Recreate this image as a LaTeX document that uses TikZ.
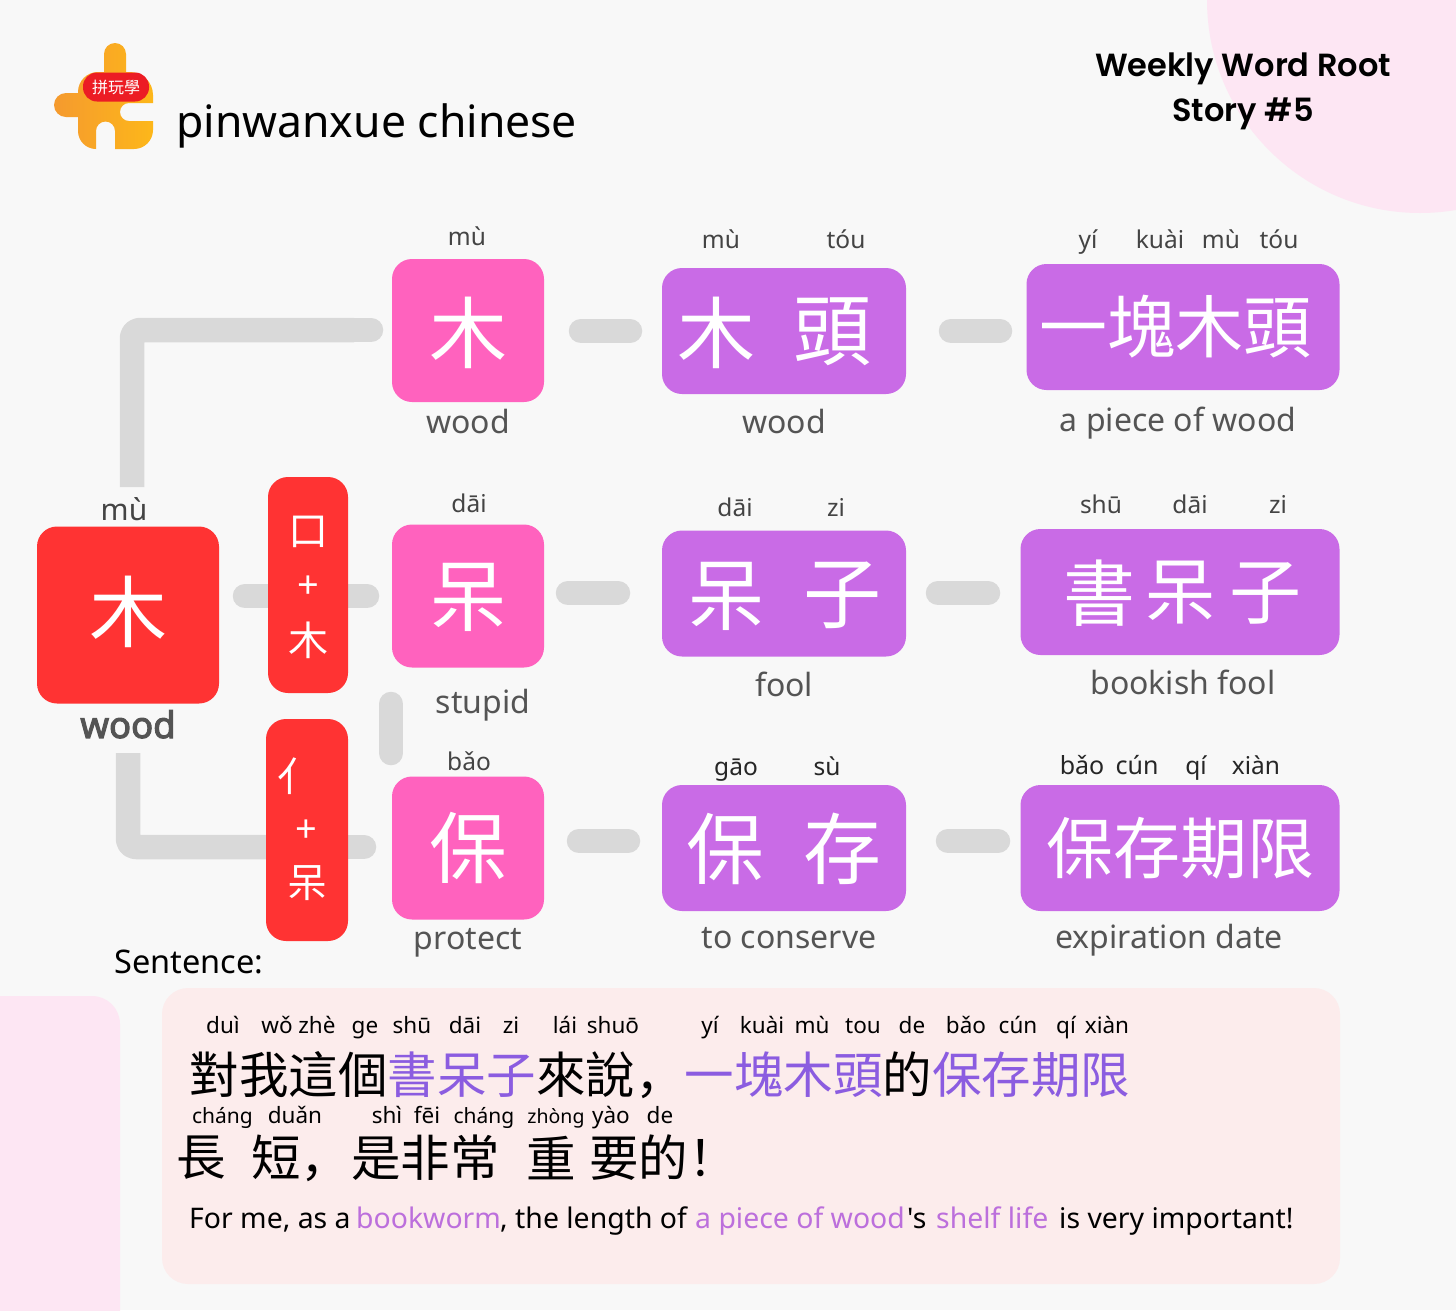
\documentclass[tikz,border=0pt]{standalone}
\usepackage{fontspec}
\setmainfont{Noto Sans}
\newfontfamily\plainfont{Noto Sans}
\newfontfamily\boldword{Noto Sans}[FakeBold=3]
\newfontfamily\cjk{Noto Sans CJK TC}
\newfontfamily\cjksc{Noto Sans CJK SC}
\newfontfamily\headfont{Poppins}[BoldFont={Poppins SemiBold}]
\definecolor{pagebg}{HTML}{F8F8F8}
\definecolor{softpink}{HTML}{FDE6F3}
\definecolor{sentbg}{HTML}{FCECEC}
\definecolor{linkgrey}{HTML}{D9D9D9}
\definecolor{rootred}{HTML}{FF3333}
\definecolor{hotpink}{HTML}{FF62BE}
\definecolor{boxpurple}{HTML}{C96BE6}
\definecolor{sentpurple}{HTML}{8B5CE0}
\definecolor{enpurple}{HTML}{BC6FDC}
\definecolor{labelgrey}{HTML}{545454}
\definecolor{pygrey}{HTML}{444444}
\definecolor{logoleft}{HTML}{F59A2E}
\definecolor{logoright}{HTML}{FDB71A}
\definecolor{logored}{HTML}{EC1C24}
\newcommand{\fs}[1]{\fontsize{#1}{#1}\selectfont}
\newcommand{\hl}[1]{\textcolor{sentpurple}{#1}}
\tikzset{
  x=1pt,y=-1pt,
  link/.style={draw=linkgrey,line width=24.5pt,line cap=round,line join=round},
  linkbutt/.style={link,line cap=butt},
  pinkbox/.style={fill=hotpink,rounded corners=20pt,minimum width=152pt,minimum height=143pt,inner sep=0pt},
  purplebox/.style={fill=boxpurple,rounded corners=20pt,minimum height=126pt,inner sep=0pt},
  redbar/.style={fill=rootred,rounded corners=20pt,inner sep=0pt},
  glyph/.style={text=white,inner sep=0pt,font=\cjk\fs{78}},
  glyphs/.style={text=white,inner sep=0pt,font=\cjk\fs{40}},
  plus/.style={text=white,inner sep=0pt,font=\fs{38}},
  py/.style={anchor=base,inner sep=0pt,text=pygrey,font=\fs{24.5}},
  pyk/.style={py,text=black!85},
  mean/.style={anchor=base,inner sep=0pt,text=labelgrey,font=\fs{32}},
  sp/.style={anchor=base,inner sep=0pt,text=black,font=\fs{22.5}},
  sent/.style={anchor=west,inner sep=0pt,text=black,font=\cjksc\fs{49.5}},
  ent/.style={anchor=base west,inner sep=0pt,text=black,font=\plainfont\fs{28.4}},
  enh/.style={ent,text=enpurple},
}
\begin{document}
\begin{tikzpicture}
\useasboundingbox (0,0) rectangle (1456,1310);
\fill[pagebg] (0,0) rectangle (1456,1310);
\begin{scope}
\clip (0,0) rectangle (1456,1310);
\fill[softpink] (1420,0) circle[radius=213];
\fill[softpink,rounded corners=28pt] (-40,996) rectangle (120,1350);
\end{scope}
\node[fill=sentbg,rounded corners=26pt,minimum width=1178pt,minimum height=296pt,inner sep=0pt] (sentbox) at (751,1136) {};

% logo
\path[left color=logoleft,right color=logoright]
  (104,72) -- (104,54) arc[start angle=180,end angle=360,radius=11] -- (126,72) -- (130,72)
  arc[start angle=270,end angle=360,radius=23] -- (153,103) -- (129,103)
  arc[start angle=270,end angle=90,radius=9] -- (153,121) -- (153,130)
  arc[start angle=0,end angle=90,radius=19] -- (115,149) -- (115,131)
  arc[start angle=360,end angle=180,radius=9.5] -- (96,149)
  arc[start angle=90,end angle=180,radius=18] -- (78,117) -- (66,117)
  arc[start angle=90,end angle=270,radius=12] -- (78,93) -- (78,92)
  arc[start angle=180,end angle=270,radius=20] -- cycle;
\node[fill=logored,rounded corners=14pt,minimum width=66pt,minimum height=29pt,inner sep=0pt,text=white,font=\cjk\fs{16}] (logopill) at (116,87) {拼玩學};
\node[anchor=base west,inner sep=0pt,text=black,font=\fs{44.5}] (brand) at (176,137) {pinwanxue chinese};
\node[anchor=base,inner sep=0pt,text=black,font=\headfont\bfseries\fs{32}] (title1) at (1243,76) {Weekly Word Root};
\node[anchor=base,inner sep=0pt,text=black,font=\headfont\bfseries\fs{32}] (title2) at (1243,121) {Story \#5};

% connector end points
\coordinate (la) at (132,487); \coordinate (lb) at (132,330); \coordinate (lc) at (371,330);
\coordinate (ma) at (128,753); \coordinate (mb) at (128,847); \coordinate (mc) at (364,847);
\coordinate (r1a) at (581,331); \coordinate (r1b) at (630,331);
\coordinate (r1c) at (951,331); \coordinate (r1d) at (1000,331);
\coordinate (r2a) at (245,596); \coordinate (r2b) at (367,596);
\coordinate (r2c) at (568,593); \coordinate (r2d) at (618,593);
\coordinate (r2e) at (938,593); \coordinate (r2f) at (988,593);
\coordinate (va) at (391,704); \coordinate (vb) at (391,753);
\coordinate (r3c) at (579,841); \coordinate (r3d) at (628,841);
\coordinate (r3e) at (948,841); \coordinate (r3f) at (998,841);

\draw[linkbutt,rounded corners=8pt] (la) -- (lb) -- (354,330);
\draw[link] (354,330) -- (lc);
\draw[linkbutt,rounded corners=8pt] (ma) -- (mb) -- (340,847);
\draw[link] (340,847) -- (mc);
\foreach \p/\q in {r1a/r1b,r1c/r1d,r2a/r2b,r2c/r2d,r2e/r2f,va/vb,r3c/r3d,r3e/r3f}
  \draw[link] (\p) -- (\q);

% root
\node[fill=rootred,rounded corners=20pt,minimum width=182pt,minimum height=177pt,inner sep=0pt] (root) at (128,615) {};
\node[glyph] (rootg) at (128,612) {木};
\node[py,font=\fs{30}] (rootpy) at (124,520) {mù};
\node[anchor=base,inner sep=0pt,text=labelgrey,font=\boldword\fs{36.5}] (rootmean) at (128,738) {wood};

% radical bars
\node[redbar,minimum width=80pt,minimum height=216pt] (bar1) at (308,585) {};
\node[glyphs] (b1a) at (308,532) {口};
\node[plus] (b1b) at (308,587) {+};
\node[glyphs] (b1c) at (308,640) {木};
\node[redbar,minimum width=82pt,minimum height=222pt] (bar2) at (307,830) {};
\node[glyphs] (b2a) at (297,776) {亻};
\node[plus] (b2b) at (306,831) {+};
\node[glyphs] (b2c) at (307,883) {呆};

% column 1
\node[pinkbox] (p1) at (468,330.5) {};
\node[pinkbox] (p2) at (468,596) {};
\node[pinkbox] (p3) at (468,848) {};
\node[glyph] (p1g) at (468,333) {木};
\node[glyph] (p2g) at (468,597) {呆};
\node[glyph] (p3g) at (468,848) {保};
\node[py] (p1py) at (467,245) {mù};
\node[mean] (p1m) at (468,433) {wood};
\node[py] (p2py) at (469,512) {dāi};
\node[mean] (p2m) at (483,713) {stupid};
\node[py] (p3py) at (469,770) {bǎo};
\node[mean] (p3m) at (468,949) {protect};

% column 2
\node[purplebox,minimum width=244pt] (q1) at (784,331) {};
\node[glyph] (q1a) at (716,333) {木};
\node[glyph] (q1b) at (832,332) {頭};
\node[py] (q1pa) at (721,248) {mù};
\node[py] (q1pb) at (846,248) {tóu};
\node[mean] (q1m) at (784,433) {wood};
\node[purplebox,minimum width=244pt] (q2) at (784,593.5) {};
\node[glyph] (q2a) at (726,596) {呆};
\node[glyph] (q2b) at (842,595) {子};
\node[py] (q2pa) at (735,516) {dāi};
\node[py] (q2pb) at (836,516) {zi};
\node[mean] (q2m) at (784,696) {fool};
\node[purplebox,minimum width=244pt] (q3) at (784,848) {};
\node[glyph] (q3a) at (725,849) {保};
\node[glyph] (q3b) at (842,849) {存};
\node[pyk] (q3pa) at (736,775) {gāo};
\node[pyk] (q3pb) at (827,775) {sù};
\node[mean] (q3m) at (789,948) {to conserve};

% column 3
\node[purplebox,minimum width=313pt] (s1) at (1183,327) {};
\node[glyph,font=\cjk\fs{68}] (s1t) at (1175,327) {一塊木頭};
\node[py] (s1a) at (1088,248) {yí};
\node[py] (s1b) at (1160,248) {kuài};
\node[py] (s1c) at (1221,248) {mù};
\node[py] (s1d) at (1279,248) {tóu};
\node[mean] (s1m) at (1178,431) {a piece of wood};
\node[purplebox,minimum width=319pt] (s2) at (1180,592) {};
\node[glyph,font=\cjk\fs{72}] (s2a) at (1099,593) {書};
\node[glyph,font=\cjk\fs{72}] (s2b) at (1180,593) {呆};
\node[glyph,font=\cjk\fs{72}] (s2c) at (1265,593) {子};
\node[py] (s2pa) at (1101,513) {shū};
\node[py] (s2pb) at (1190,513) {dāi};
\node[py] (s2pc) at (1278,513) {zi};
\node[mean] (s2m) at (1183,694) {bookish fool};
\node[purplebox,minimum width=319pt] (s3) at (1180,848) {};
\node[glyph,font=\cjk\fs{67}] (s3t) at (1180,848) {保存期限};
\node[pyk,font=\fs{25}] (s3a) at (1082,774) {bǎo};
\node[pyk,font=\fs{25}] (s3b) at (1137,774) {cún};
\node[pyk] (s3c) at (1196,774) {qí};
\node[pyk] (s3d) at (1256,774) {xiàn};
\node[mean] (s3m) at (1169,948) {expiration date};

% sentence
\node[anchor=base west,inner sep=0pt,text=black,font=\fs{32.5}] (senthead) at (114,973) {Sentence:};
\foreach \n/\x/\t in {a/223/duì,b/277/wǒ,c/317/zhè,d/365/ge,e/412/shū,f/465/dāi,g/511/zi,h/565/lái,i/613/shuō,j/710/yí,k/762/kuài,l/812/mù,m/863/tou,n/912/de,o/966/bǎo,p/1018/cún,q/1066/qí,r/1107/xiàn}
  \node[sp] (l1\n) at (\x,1033) {\t};
\node[sent] (line1) at (189.5,1075) {對我這個\hl{書呆子}來說，\hl{一塊木頭}的\hl{保存期限}};
\node[sp,font=\fs{21}] (l2a) at (222.5,1123) {cháng};
\foreach \n/\x/\t in {b/295/duǎn,c/387/shì,d/427/fēi,g/611/yào,h/660/de}
  \node[sp] (l2\n) at (\x,1123) {\t};
\node[sp,font=\fs{21}] (l2e) at (484,1123) {cháng};
\node[sp,font=\fs{19.5}] (l2f) at (556,1123) {zhòng};
\node[sent] (w1) at (176,1158) {長};
\node[sent] (w2) at (251,1158) {短，};
\node[sent] (w3) at (351,1158) {是非常};
\node[sent] (w4) at (526,1158) {重};
\node[sent] (w5) at (589,1158) {要的！};
\node[ent] (en1) at (189,1228) {For me, as a};
\node[enh] (en2) at (356,1228) {bookworm};
\node[ent] (en3) at (500,1228) {, the length of};
\node[enh] (en4) at (695,1228) {a piece of wood};
\node[ent] (en5) at (907,1228) {'s};
\node[enh] (en6) at (936,1228) {shelf life};
\node[ent] (en7) at (1059,1228) {is very important!};
\end{tikzpicture}
\end{document}
